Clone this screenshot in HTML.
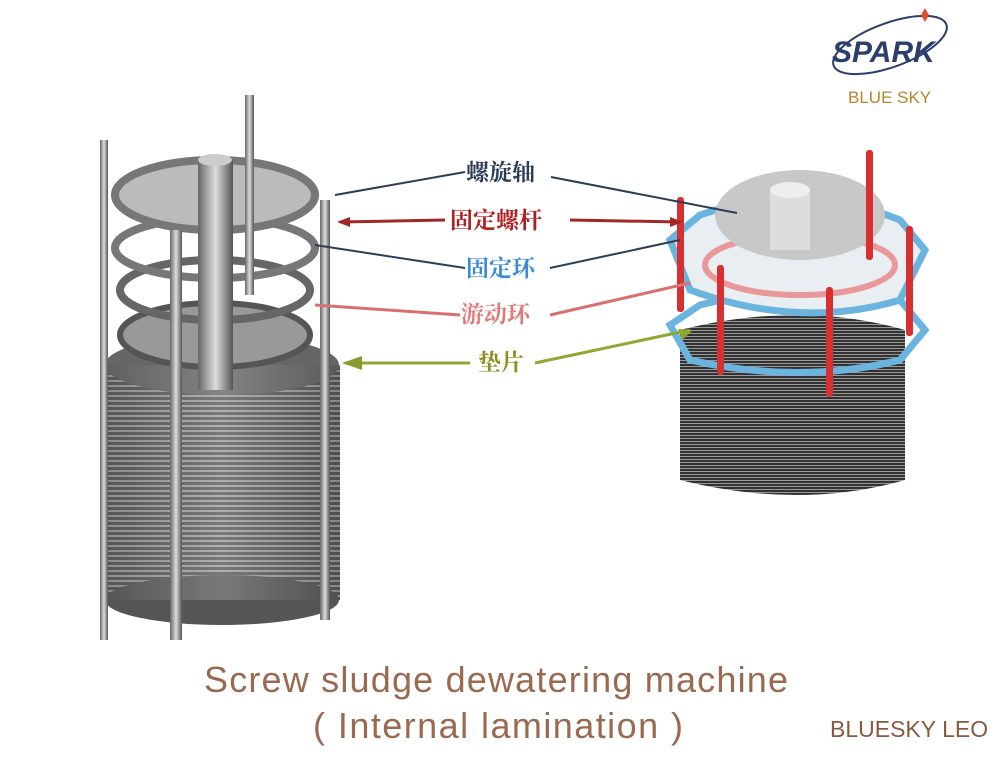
<!DOCTYPE html>
<html><head><meta charset="utf-8"><style>
body{margin:0;background:#fff}
svg{display:block}
.cn{font-family:"Liberation Serif","Noto Serif CJK SC",serif;font-size:23px;font-weight:bold}
</style></head><body>
<svg width="1000" height="767" viewBox="0 0 1000 767" xmlns="http://www.w3.org/2000/svg">
<defs>
<linearGradient id="g" x1="0" x2="1"><stop offset="0" stop-color="#555"/><stop offset=".5" stop-color="#bbb"/><stop offset="1" stop-color="#444"/></linearGradient>
<linearGradient id="rod" x1="0" x2="1"><stop offset="0" stop-color="#666"/><stop offset=".5" stop-color="#ddd"/><stop offset="1" stop-color="#555"/></linearGradient>
<pattern id="st" width="6" height="5" patternUnits="userSpaceOnUse"><rect width="6" height="5" fill="#555"/><rect width="6" height="2" fill="#aaa"/></pattern>
<pattern id="st2" width="4" height="3" patternUnits="userSpaceOnUse"><rect width="4" height="3" fill="#333"/><rect width="4" height="1" fill="#999"/></pattern>
</defs>
<rect x="105" y="365" width="235" height="235" fill="url(#st)"/>
<ellipse cx="222" cy="365" rx="117" ry="30" fill="#666"/>
<ellipse cx="222" cy="600" rx="117" ry="25" fill="#555"/>
<rect x="105" y="365" width="235" height="235" fill="url(#g)" opacity=".35"/>
<ellipse cx="215" cy="335" rx="95" ry="32" fill="#999" stroke="#555" stroke-width="6"/>
<ellipse cx="215" cy="290" rx="95" ry="30" fill="none" stroke="#666" stroke-width="8"/>
<ellipse cx="215" cy="248" rx="100" ry="30" fill="none" stroke="#777" stroke-width="8"/>
<ellipse cx="215" cy="195" rx="100" ry="35" fill="#bbb" stroke="#777" stroke-width="8"/>
<rect x="198" y="160" width="35" height="230" fill="url(#rod)"/>
<ellipse cx="215" cy="160" rx="17" ry="6" fill="#ccc"/>
<rect x="100" y="140" width="8" height="500" fill="url(#rod)"/>
<rect x="320" y="200" width="10" height="420" fill="url(#rod)"/>
<rect x="245" y="95" width="9" height="200" fill="url(#rod)"/>
<rect x="170" y="230" width="12" height="410" fill="url(#rod)"/>
<path d="M680 330 Q800 300 905 330 L905 480 Q800 510 680 480 Z" fill="url(#st2)"/>
<path d="M670 325 L700 305 Q800 280 900 300 L925 330 L900 360 Q800 385 690 360 Z" fill="none" stroke="#6cb4e0" stroke-width="7"/>
<path d="M670 240 L700 215 Q800 180 900 220 L925 250 L900 300 Q800 330 690 290 Z" fill="#e9eef2" stroke="#6cb4e0" stroke-width="7"/>
<ellipse cx="800" cy="265" rx="95" ry="30" fill="none" stroke="#e89898" stroke-width="6"/>
<ellipse cx="800" cy="215" rx="85" ry="45" fill="#c8c8c8"/>
<rect x="770" y="190" width="40" height="60" fill="#ddd"/>
<ellipse cx="790" cy="190" rx="20" ry="8" fill="#eee"/>
<g fill="#d83030">
<rect x="677" y="197" width="7" height="115" rx="3"/>
<rect x="717" y="265" width="7" height="110" rx="3"/>
<rect x="826" y="287" width="7" height="110" rx="3"/>
<rect x="906" y="226" width="7" height="110" rx="3"/>
<rect x="866" y="150" width="7" height="110" rx="3"/>
</g>
<g stroke-width="2" fill="none">
<path d="M335 195 L465 172 M551 177 L737 213" stroke="#2c3e55"/>
<path d="M340 222 L445 220 M570 220 L680 222" stroke="#a02828" stroke-width="3"/>
<path d="M315 245 L465 268 M550 268 L680 240" stroke="#2c3e55"/>
<path d="M315 305 L460 315 M550 315 L690 283" stroke="#d87070" stroke-width="3"/>
<path d="M345 363 L470 363 M535 363 L690 330" stroke="#90a830" stroke-width="3"/>
</g>
<polygon points="337,222 350,217 350,227" fill="#a02828"/>
<polygon points="683,222 670,217 670,227" fill="#a02828"/>
<polygon points="342,363 362,356 362,370" fill="#889a30"/>
<polygon points="693,330 678,329 682,340" fill="#90a830"/>
<text x="466" y="180" class="cn" fill="#2c3e55">螺旋轴</text>
<text x="450" y="228" class="cn" fill="#b02020">固定螺杆</text>
<text x="466" y="276" class="cn" fill="#3a8ad8">固定环</text>
<text x="461" y="322" class="cn" fill="#e07878">游动环</text>
<text x="478" y="370" class="cn" fill="#8a9020">垫片</text>
<ellipse cx="890" cy="45" rx="60" ry="22" fill="none" stroke="#2c3e6a" stroke-width="2" transform="rotate(-20 890 45)"/>
<text x="832" y="62" font-family="Liberation Sans,sans-serif" font-size="30" font-weight="bold" font-style="italic" fill="#2c3e6a">SPAR<tspan fill="#2c3e6a">K</tspan></text>
<polygon points="925,8 929,15 925,22 921,15" fill="#e05030"/>
<text x="848" y="103" font-family="Liberation Sans,sans-serif" font-size="17" fill="#b8862a">BLUE SKY</text>
<text x="496" y="692" text-anchor="middle" textLength="584" font-family="Liberation Sans,sans-serif" font-size="36" fill="#9a6a50">Screw sludge dewatering machine</text>
<text x="498" y="738" text-anchor="middle" textLength="370" font-family="Liberation Sans,sans-serif" font-size="36" fill="#9a6a50">( Internal lamination )</text>
<text x="830" y="737" font-family="Liberation Sans,sans-serif" font-size="23" fill="#8a5a40">BLUESKY LEO</text>
</svg>
</body></html>
